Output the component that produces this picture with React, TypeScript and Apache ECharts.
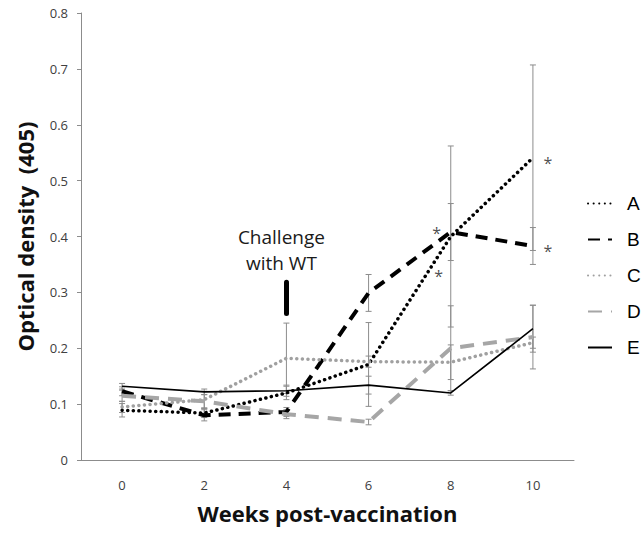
import React, { useEffect, useRef } from "react";
import * as echarts from "echarts";

const weeks = ["0", "2", "4", "6", "8", "10"];
const seriesNames = ["A", "B", "C", "D", "E"];
const valuesA = [0.089, 0.084, 0.12, 0.171, 0.4, 0.541];
const valuesB = [0.123, 0.08, 0.086, 0.299, 0.408, 0.383];
const valuesC = [0.095, 0.108, 0.182, 0.176, 0.175, 0.21];
const valuesD = [0.115, 0.105, 0.082, 0.068, 0.2, 0.22];
const valuesE = [0.132, 0.122, 0.124, 0.134, 0.12, 0.235];
const errorsA = [0.012, 0.008, 0.012, 0.075, 0.162, 0.166];
const errorsB = [0.008, 0.01, 0.008, 0.033, 0.051, 0.033];
const errorsC = [0.01, 0.015, 0.063, 0.01, 0.031, 0.01];
const errorsD = [0.01, 0.012, 0.008, 0.005, 0.076, 0.057];
const errorsE = [0.005, 0.005, 0.01, 0.016, 0.004, 0.042];
const yTicks = { min: 0, max: 0.8, interval: 0.1 };
const challengeWeek = "4";
const challengeRange = [0.262, 0.318];
const challengeText = "Challenge\nwith WT";
// significance asterisks: [seriesIndex, pointIndex]
const asterisks = [
  [0, 4],
  [0, 5],
  [1, 4],
  [1, 5],
];

const allValues = [valuesA, valuesB, valuesC, valuesD, valuesE];
const allErrors = [errorsA, errorsB, errorsC, errorsD, errorsE];

export default function App() {
  const ref = useRef<HTMLDivElement>(null);
  useEffect(() => {
    if (!ref.current) return;
    const chart = echarts.init(ref.current, undefined, { renderer: "svg" });

    const styles = [
      { color: "#000000", width: 3.5, type: [0.1, 5.5], cap: "round" },
      { color: "#000000", width: 4, type: [12, 8], cap: "butt" },
      { color: "#a0a0a0", width: 3.5, type: [0.1, 5.5], cap: "round" },
      { color: "#a6a6a6", width: 4, type: [14, 9], cap: "butt" },
      { color: "#000000", width: 1.6, type: "solid", cap: "butt" },
    ];

    const asteriskOffset = (si: number, pi: number) => {
      if (si === 0 && pi === 4) return [-12, 39];
      if (si === 1 && pi === 4) return [-14, 1];
      return [15, 5];
    };

    const errData: number[][] = [];
    allValues.forEach((vals, si) => {
      vals.forEach((v, i) => {
        errData.push([i, v - allErrors[si][i], v + allErrors[si][i]]);
      });
    });

    const lineSeries: any[] = seriesNames.map((name, si) => ({
      name,
      type: "line",
      z: 3,
      symbol: "none",
      lineStyle: {
        color: styles[si].color,
        width: styles[si].width,
        type: styles[si].type,
        cap: styles[si].cap,
      },
      itemStyle: { color: styles[si].color },
      data: allValues[si],
    }));

    lineSeries[4].markLine = {
      silent: true,
      symbol: ["none", "none"],
      lineStyle: { color: "#000", width: 5, type: "solid", cap: "round" },
      label: {
        show: true,
        position: "end",
        formatter: challengeText,
        fontSize: 19,
        lineHeight: 26,
        fontFamily: "Open Sans",
        color: "#1a1a1a",
        distance: 6,
        offset: [-5, 0],
      },
      data: [
        [
          { coord: [challengeWeek, challengeRange[0]] },
          { coord: [challengeWeek, challengeRange[1]] },
        ],
      ],
    };

    const starSeries = {
      type: "scatter",
      name: "stars",
      z: 4,
      silent: true,
      symbol: "circle",
      symbolSize: 0.1,
      itemStyle: { color: "rgba(0,0,0,0)" },
      data: asterisks.map(([si, pi]) => ({
        value: [weeks[pi], allValues[si][pi]],
        label: {
          show: true,
          position: "inside",
          formatter: "*",
          offset: asteriskOffset(si, pi),
          fontSize: 16,
          fontFamily: "Open Sans",
          color: "#222",
        },
      })),
    };

    chart.setOption({
      animation: false,
      grid: { left: 81, right: 69, top: 13, bottom: 75 },
      legend: {
        orient: "vertical",
        left: 582,
        top: 189,
        itemWidth: 24,
        itemHeight: 14,
        itemGap: 17,
        data: seriesNames,
        itemStyle: { opacity: 0 },
        textStyle: { fontSize: 19, fontFamily: "Liberation Sans", color: "#000", padding: [0, 0, 0, 10] },
      },
      xAxis: {
        type: "category",
        data: weeks,
        boundaryGap: true,
        name: "Weeks post-vaccination",
        nameLocation: "middle",
        nameGap: 42,
        nameTextStyle: { fontSize: 22, fontWeight: "bold", fontFamily: "Open Sans", color: "#111" },
        axisLine: { lineStyle: { color: "#8c8c8c", width: 1 } },
        axisTick: { show: false },
        axisLabel: { margin: 18, fontSize: 13, fontFamily: "Open Sans", color: "#404040" },
      },
      yAxis: {
        type: "value",
        min: yTicks.min,
        max: yTicks.max,
        interval: yTicks.interval,
        name: "Optical density  (405)",
        nameLocation: "middle",
        nameGap: 45,
        nameTextStyle: { fontSize: 22, fontWeight: "bold", fontFamily: "Open Sans", color: "#111" },
        axisLine: { show: true, lineStyle: { color: "#8c8c8c", width: 1 } },
        axisTick: { show: true, length: 4, lineStyle: { color: "#8c8c8c" } },
        splitLine: { show: false },
        axisLabel: { margin: 13, fontSize: 13, fontFamily: "Open Sans", color: "#404040" },
      },
      series: [
        {
          type: "custom",
          name: "errors",
          z: 2,
          silent: true,
          data: errData,
          renderItem: (params: any, api: any) => {
            const x = api.value(0);
            const lo = api.coord([x, api.value(1)]);
            const hi = api.coord([x, api.value(2)]);
            const w = 3;
            const st = { stroke: "#8c8c8c", lineWidth: 1 };
            return {
              type: "group",
              children: [
                { type: "line", shape: { x1: lo[0], y1: lo[1], x2: hi[0], y2: hi[1] }, style: st },
                { type: "line", shape: { x1: lo[0] - w, y1: lo[1], x2: lo[0] + w, y2: lo[1] }, style: st },
                { type: "line", shape: { x1: hi[0] - w, y1: hi[1], x2: hi[0] + w, y2: hi[1] }, style: st },
              ],
            };
          },
        },
        ...lineSeries,
        starSeries,
      ],
    });
    return () => chart.dispose();
  }, []);
  return <div ref={ref} style={{ width: 643, height: 535, position: "absolute", left: 0, top: 0, background: "#fff" }} />;
}
